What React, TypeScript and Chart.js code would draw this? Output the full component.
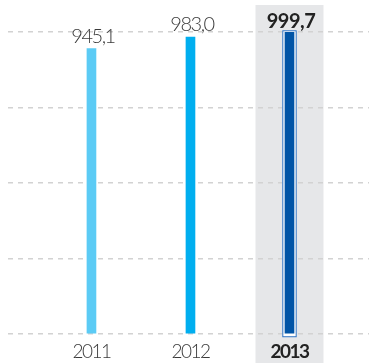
import React, { useEffect, useRef } from 'react';
import { Chart, registerables } from 'chart.js';

Chart.register(...registerables);

const years = [2011, 2012, 2013];
const values = [945.1, 983.0, 999.7];
const valueLabels = ['945,1', '983,0', '999,7'];
const yTicks = [0, 250, 500, 750, 1000];
const highlightYear = 2013;

const barColors = ['#5bcbf5', '#00aeef', '#0054a6'];
const FONT = 'Lato';

const decorPlugin = {
  id: 'decor',
  beforeDraw(chart: any) {
    const ctx = chart.ctx;
    const xs = chart.scales.x;
    const x = xs.getPixelForValue(highlightYear);
    ctx.save();
    ctx.fillStyle = '#e6e7e9';
    ctx.fillRect(x - 34, 5, 68, chart.height - 5);
    ctx.restore();
    (ctx as any).letterSpacing = '-1.5px';
  },
  beforeDatasetsDraw(chart: any) {
    const ctx = chart.ctx;
    const meta = chart.getDatasetMeta(0);
    const idx = years.indexOf(highlightYear);
    const bar = meta.data[idx];
    if (!bar) return;
    const p = bar.getProps(['x', 'y', 'base', 'width'], true);
    const left = p.x - p.width / 2 - 2.7;
    const right = p.x + p.width / 2 + 2.7;
    const top = p.y - 1.8;
    const bottom = p.base + 4;
    ctx.save();
    ctx.fillStyle = '#ffffff';
    ctx.fillRect(left, top, right - left, bottom - top);
    ctx.strokeStyle = '#2b6fc0';
    ctx.lineWidth = 1;
    ctx.strokeRect(left + 0.5, top + 0.5, right - left - 1, bottom - top - 1);
    ctx.restore();
  },
  afterDatasetsDraw(chart: any) {
    const ctx = chart.ctx;
    const meta = chart.getDatasetMeta(0);
    ctx.save();
    ctx.textAlign = 'center';
    ctx.textBaseline = 'alphabetic';
    meta.data.forEach((bar: any, i: number) => {
      const p = bar.getProps(['x', 'y'], true);
      const hl = years[i] === highlightYear;
      ctx.font = (hl ? 'bold ' : '300 ') + '20px ' + FONT;
      ctx.fillStyle = hl ? '#222222' : '#3a3a3a';
      (ctx as any).letterSpacing = hl ? '-0.5px' : '-1.5px';
      ctx.fillText(valueLabels[i], p.x + 1.5, p.y - (hl ? 4 : 6));
    });
    ctx.restore();
  },
  afterDraw(chart: any) {
    (chart.ctx as any).letterSpacing = '0px';
  },
};

export default function App() {
  const ref = useRef<HTMLCanvasElement>(null);
  useEffect(() => {
    if (!ref.current) return;
    const chart = new Chart(ref.current, {
      type: 'bar',
      data: {
        datasets: [
          {
            data: years.map((y, i) => ({ x: y, y: values[i] })),
            backgroundColor: barColors,
            borderWidth: 0,
            barThickness: 9,
          },
        ],
      },
      options: {
        animation: false,
        responsive: true,
        maintainAspectRatio: false,
        layout: { padding: { left: 8, right: 0, top: 32, bottom: 0 } },
        plugins: { legend: { display: false }, tooltip: { enabled: false } },
        scales: {
          x: {
            type: 'linear',
            min: 2010.157,
            max: 2013.803,
            offset: false,
            afterBuildTicks: (s: any) => {
              s.ticks = years.map((v) => ({ value: v }));
            },
            afterFit: (s: any) => {
              s.height = 29;
            },
            ticks: {
              callback: (v: any) => String(v),
              padding: 6,
              maxRotation: 0,
              autoSkip: false,
              color: (c: any) => (c.tick && c.tick.value === highlightYear ? '#222222' : '#3a3a3a'),
              font: (c: any) =>
                c.tick && c.tick.value === highlightYear
                  ? { family: FONT, size: 19, weight: 'bold' }
                  : { family: FONT, size: 19, weight: '300' },
            },
            grid: { display: false, drawTicks: false },
            border: { display: false },
          },
          y: {
            min: 0,
            max: 1000,
            afterBuildTicks: (s: any) => {
              s.ticks = yTicks.map((v) => ({ value: v }));
            },
            afterFit: (s: any) => {
              s.width = 0;
            },
            ticks: { display: false },
            grid: { color: '#d2d2d2', lineWidth: 1.5, drawTicks: false },
            border: { display: false, dash: [5, 5] },
          },
        },
      },
      plugins: [decorPlugin],
    } as any);
    return () => chart.destroy();
  }, []);
  return (
    <div style={{ position: 'fixed', left: 0, top: 0, width: 369, height: 363 }}>
      <canvas ref={ref} />
    </div>
  );
}
